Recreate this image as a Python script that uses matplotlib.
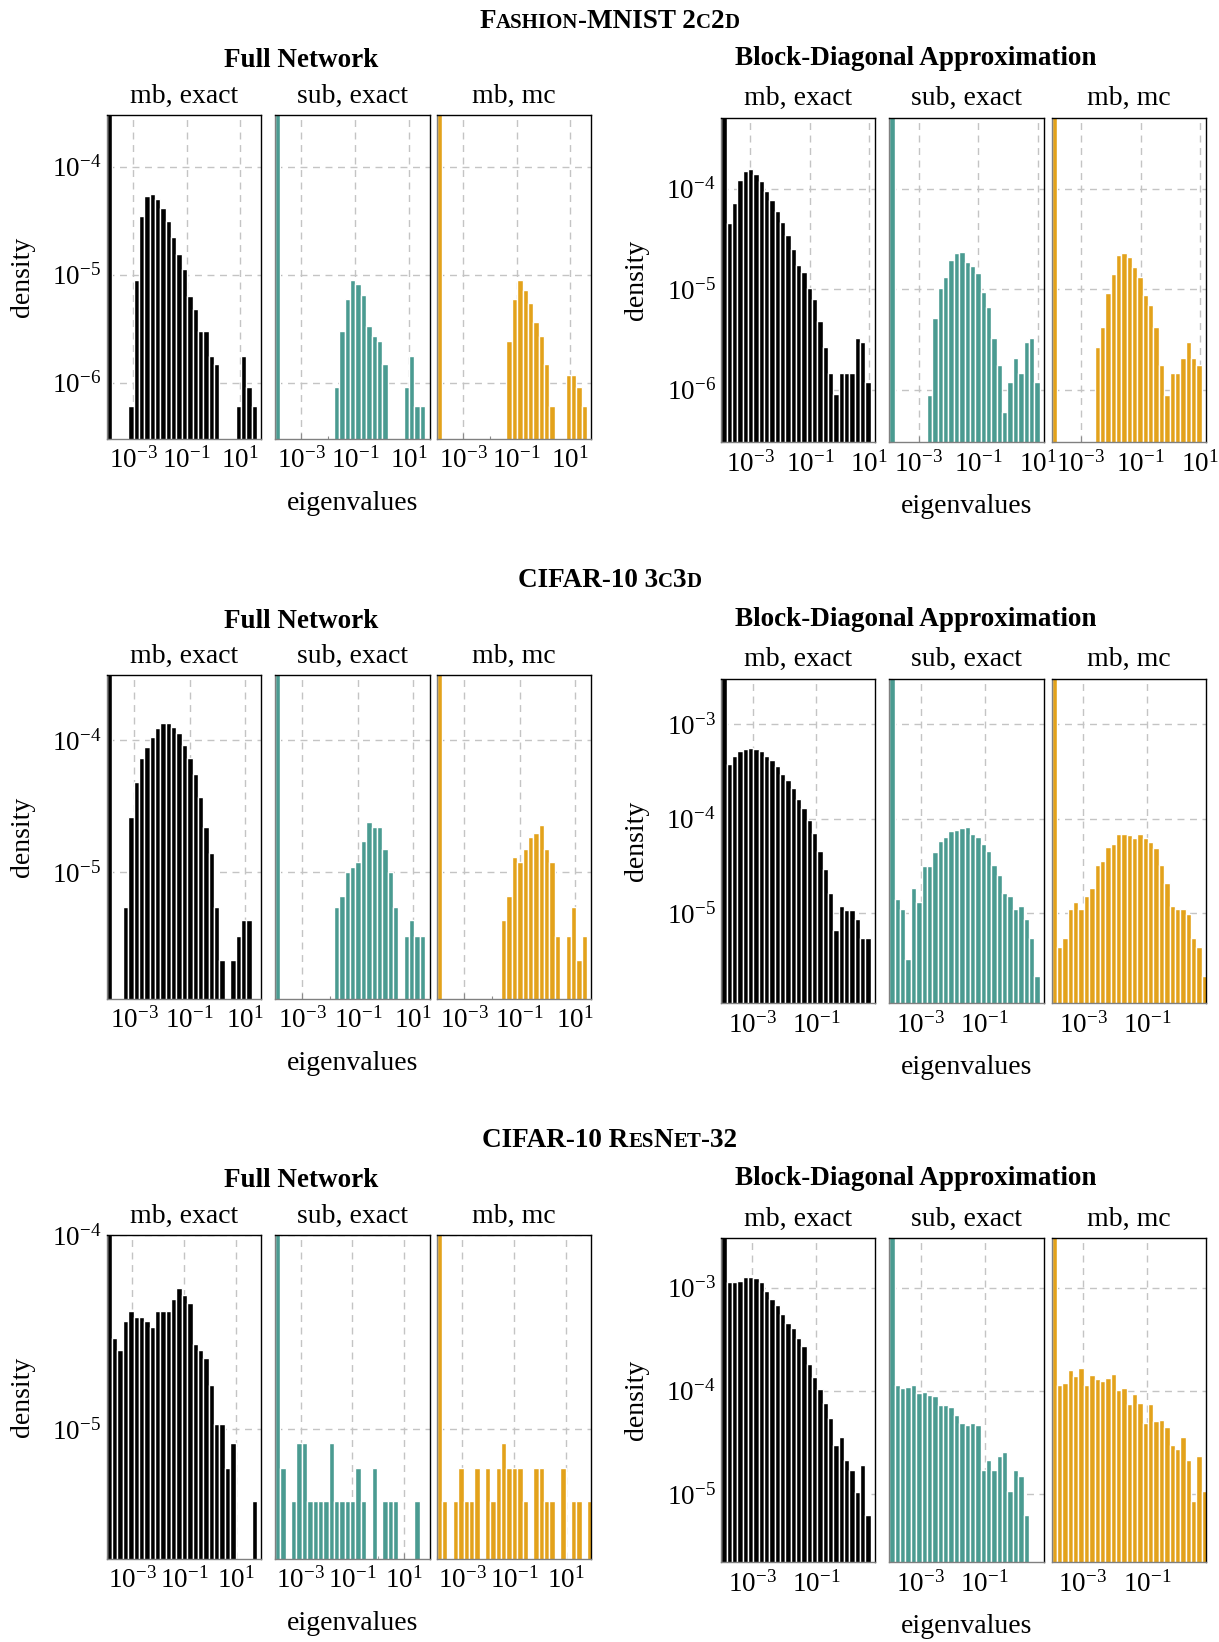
import numpy as np
import matplotlib
matplotlib.use("Agg")
import matplotlib.pyplot as plt
from matplotlib.ticker import FixedLocator, LogLocator, NullFormatter

plt.rcParams['font.family'] = ['Liberation Serif', 'DejaVu Serif']
plt.rcParams['mathtext.fontset'] = 'stix'

W, H = 1219, 1642
fig = plt.figure(figsize=(W / 100, H / 100), dpi=100)

COLORS = ['#000000', '#4A9B91', '#E3A21B']
PANEL_TITLES = ['mb, exact', 'sub, exact', 'mb, mc']
GROUP_TITLES = ['Full Network', 'Block-Diagonal Approximation']
XLABEL = 'eigenvalues'
YLABEL = 'density'

# ---- data: log10(density) per logarithmic bin (None = empty bin); bin 0 is off-scale ----
N = None
# Fashion-MNIST 2c2d, full network
FM_FULL_MB_EXACT = [-1.0, N, N, N, -6.22, -5.05, -4.46, -4.27, -4.25, -4.30, -4.38, -4.50, -4.65, -4.81,
                    -4.95, -5.20, -5.32, -5.52, -5.52, -5.75, -5.83, N, N, N, -6.22, -5.75, -6.04, -6.22]
FM_FULL_SUB_EXACT = [-1.0, N, N, N, N, N, N, N, N, N, N, -6.04, -5.52, -5.23, -5.05, -5.09, -5.19, -5.48,
                     -5.57, -5.62, -5.83, N, N, N, -6.04, -5.75, -6.22, -6.22]
FM_FULL_MB_MC = [-1.0, N, N, N, N, N, N, N, N, N, N, N, N, -5.62, -5.23, -5.05, -5.14, -5.26, -5.44,
                 -5.57, -5.83, -6.22, N, N, -5.93, -5.93, -6.04, -6.22]
# Fashion-MNIST 2c2d, block-diagonal
FM_BLOCK_MB_EXACT = [-1.0, -4.34, -4.14, -3.91, -3.82, -3.80, -3.85, -3.92, -4.02, -4.11, -4.22, -4.33,
                     -4.46, -4.60, -4.76, -4.83, -4.99, -5.10, -5.32, -5.57, -5.83, -6.04, -5.83, -5.83,
                     -5.83, -5.48, -5.52, -5.92]
FM_BLOCK_SUB_EXACT = [-1.0, N, N, N, N, N, N, -6.05, -5.29, -4.99, -4.88, -4.71, -4.64, -4.63, -4.73,
                      -4.77, -4.84, -5.03, -5.18, -5.48, -5.75, -6.22, -5.92, -5.68, -5.83, -5.52, -5.48,
                      -5.92]
FM_BLOCK_MB_MC = [-1.0, N, N, N, N, N, N, N, -5.57, -5.38, -5.04, -4.85, -4.66, -4.64, -4.68, -4.78,
                  -4.88, -5.06, -5.16, -5.38, -5.75, -6.05, -5.83, -5.83, -5.68, -5.52, -5.68, -5.75]
# CIFAR-10 3c3d, full network
C3_FULL_MB_EXACT = [-1.0, N, N, -5.26, -4.58, -4.32, -4.14, -4.05, -3.98, -3.91, -3.87, -3.87, -3.90,
                    -3.95, -4.04, -4.14, -4.26, -4.43, -4.66, -4.85, -5.26, -5.66, N, -5.66, -5.48,
                    -5.36, -5.36]
C3_FULL_SUB_EXACT = [-1.0, N, N, N, N, N, N, N, N, N, N, -5.26, -5.18, -5.00, -4.96, -4.92, -4.76, -4.62,
                     -4.66, -4.66, -4.82, -5.00, -5.26, N, -5.48, -5.36, -5.48, -5.48]
C3_FULL_MB_MC = [-1.0, N, N, N, N, N, N, N, N, N, N, N, -5.36, -5.18, -4.88, -4.92, -4.82, -4.73, -4.70,
                 -4.64, -4.82, -4.92, -5.48, N, -5.48, -5.26, -5.66, -5.48]
# CIFAR-10 3c3d, block-diagonal
C3_BLOCK_MB_EXACT = [-1.0, -3.42, -3.34, -3.29, -3.27, -3.25, -3.27, -3.29, -3.34, -3.38, -3.45, -3.53,
                     -3.59, -3.68, -3.79, -3.89, -4.01, -4.15, -4.34, -4.53, -4.79, -5.18, -4.92, -4.97,
                     -4.97, -5.06, -5.26, -5.26]
C3_BLOCK_SUB_EXACT = [-1.0, -4.85, -4.96, -5.48, -4.73, -4.88, -4.50, -4.50, -4.35, -4.24, -4.19, -4.13,
                      -4.12, -4.10, -4.09, -4.16, -4.19, -4.27, -4.34, -4.49, -4.60, -4.79, -4.82, -4.96,
                      -4.92, -5.06, -5.26, -5.66]
C3_BLOCK_MB_MC = [-1.0, -5.36, -5.26, -4.96, -4.88, -4.96, -4.82, -4.73, -4.49, -4.45, -4.30, -4.27,
                  -4.16, -4.16, -4.17, -4.20, -4.16, -4.21, -4.25, -4.31, -4.49, -4.68, -4.92, -4.96,
                  -4.96, -5.01, -5.26, -5.36, -5.66]
# CIFAR-10 ResNet-32, full network
RN_FULL_MB_EXACT = [-1.0, -4.53, -4.59, -4.44, -4.39, -4.42, -4.42, -4.44, -4.47, -4.39, -4.39, -4.39,
                    -4.33, -4.27, -4.31, -4.35, -4.56, -4.59, -4.63, -4.77, -4.97, -4.97, -5.20, -5.07,
                    N, N, N, -5.37]
RN_FULL_SUB_EXACT = [-1.0, -5.20, N, -5.37, -5.07, -5.07, -5.37, -5.37, -5.37, -5.37, -5.07, -5.37,
                     -5.37, -5.37, -5.37, -5.20, -5.37, N, -5.20, N, -5.37, -5.37, -5.37, N, N, N, -5.37]
RN_FULL_MB_MC = [-1.0, -5.37, N, -5.37, -5.20, -5.37, -5.37, -5.20, N, -5.20, -5.37, -5.20, -5.07,
                 -5.20, -5.20, -5.20, -5.37, N, -5.20, -5.20, -5.37, -5.37, N, -5.20, N, -5.37, -5.37,
                 N, -5.37]
# CIFAR-10 ResNet-32, block-diagonal
RN_BLOCK_MB_EXACT = [-1.0, -2.95, -2.95, -2.94, -2.90, -2.90, -2.91, -2.95, -3.03, -3.11, -3.17, -3.26,
                     -3.34, -3.39, -3.49, -3.57, -3.74, -3.87, -3.98, -4.12, -4.26, -4.53, -4.45, -4.67,
                     -4.77, -4.98, -4.72, -5.20]
RN_BLOCK_SUB_EXACT = [-1.0, -3.94, -3.97, -3.96, -3.94, -4.02, -4.01, -4.04, -4.05, -4.14, -4.14, -4.16,
                      -4.23, -4.31, -4.33, -4.31, -4.33, -4.77, -4.67, -4.77, -4.63, -4.59, -4.97, -4.77,
                      -4.83, -5.20]
RN_BLOCK_MB_MC = [-1.0, -3.94, -3.92, -3.80, -3.86, -3.78, -3.94, -3.85, -3.89, -3.91, -3.88, -3.84,
                  -3.99, -3.97, -4.13, -4.03, -4.12, -4.31, -4.13, -4.29, -4.28, -4.35, -4.53, -4.56,
                  -4.45, -4.67, -5.07, -4.63, -4.97]

# bin grids (log10 of first edge, bin width in decades) and axis ranges
SECTIONS = [
    [("F", 0), ("ASHION", 1), ("-MNIST 2", 0), ("C", 1), ("2", 0), ("D", 1)],
    [("CIFAR-10 3", 0), ("C", 1), ("3", 0), ("D", 1)],
    [("CIFAR-10 R", 0), ("ES", 1), ("N", 0), ("ET", 1), ("-32", 0)],
]
GROUP_DATA = [
    [(FM_FULL_MB_EXACT, FM_FULL_SUB_EXACT, FM_FULL_MB_MC), (-3.98, 0.200), (3e-7, 3e-4), [1e-3, 1e-1, 1e1]],
    [(FM_BLOCK_MB_EXACT, FM_BLOCK_SUB_EXACT, FM_BLOCK_MB_MC), (-3.977, 0.1795), (3e-7, 5.1e-4), [1e-3, 1e-1, 1e1]],
    [(C3_FULL_MB_EXACT, C3_FULL_SUB_EXACT, C3_FULL_MB_MC), (-3.99, 0.1935), (1.11e-6, 3.06e-4), [1e-3, 1e-1, 1e1]],
    [(C3_BLOCK_MB_EXACT, C3_BLOCK_SUB_EXACT, C3_BLOCK_MB_MC), (-3.99, 0.1685), (1.12e-6, 3e-3), [1e-3, 1e-1]],
    [(RN_FULL_MB_EXACT, RN_FULL_SUB_EXACT, RN_FULL_MB_MC), (-4.0, 0.2083), (2.15e-6, 1e-4), [1e-3, 1e-1, 1e1]],
    [(RN_BLOCK_MB_EXACT, RN_BLOCK_SUB_EXACT, RN_BLOCK_MB_MC), (-3.975, 0.1675), (2.18e-6, 3e-3), [1e-3, 1e-1]],
]
VISIBLE_BINS = 28.8

# ---- layout (pixels) ----
LEFT_X = [(106.7, 261.3), (275.0, 429.5), (436.7, 591.3)]
RIGHT_X = [(721.3, 875.0), (889.3, 1044.0), (1051.7, 1206.0)]
LEFT_ROWS = [(115.0, 439.0), (675.5, 999.0), (1235.3, 1559.0)]
RIGHT_ROWS = [(117.7, 442.3), (678.7, 1003.3), (1238.3, 1562.3)]
SECTION_Y = [19.0, 578.0, 1138.0]
FS = 20
FS_TICK = 19.5


def fx(x):
    return x / W


def fy(y):
    return 1 - y / H


def draw_group(gdata, xs, rows):
    panels, (lo, bw), ylim, xticks = gdata
    top, bottom = rows
    axes = []
    for j, (vals, color) in enumerate(zip(panels, COLORS)):
        x0, x1 = xs[j]
        ax = fig.add_axes([fx(x0), fy(bottom), (x1 - x0) / W, (bottom - top) / H])
        edges = 10 ** (lo + bw * np.arange(len(vals) + 1))
        lefts, widths, heights = [], [], []
        for i, v in enumerate(vals):
            if v is None:
                continue
            lefts.append(edges[i])
            widths.append(edges[i + 1] - edges[i])
            heights.append(10 ** v)
        ax.bar(lefts, heights, width=widths, bottom=1e-12, align='edge', color=color,
               edgecolor='white', linewidth=1.0)
        ax.set_xscale('log')
        ax.set_yscale('log')
        ax.set_xlim(10 ** lo, 10 ** (lo + VISIBLE_BINS * bw))
        ax.set_ylim(*ylim)
        ax.xaxis.set_major_locator(FixedLocator(xticks))
        ax.xaxis.set_minor_locator(LogLocator(base=10, subs=(1.0,), numticks=30))
        ax.xaxis.set_minor_formatter(NullFormatter())
        ax.yaxis.set_major_locator(LogLocator(base=10, numticks=30))
        ax.yaxis.set_minor_locator(LogLocator(base=10, subs=np.arange(2, 10), numticks=30))
        ax.yaxis.set_minor_formatter(NullFormatter())
        ax.set_axisbelow(True)
        ax.grid(True, which='major', color='#c4c4c4', linestyle=(0, (5, 4)), linewidth=1.0)
        ax.tick_params(which='both', direction='in', color='0.55', width=0.8, labelsize=FS_TICK)
        ax.tick_params(which='major', length=4, pad=6)
        ax.tick_params(which='minor', length=2)
        ax.tick_params(axis='y', which='major', pad=4)
        if j > 0:
            ax.tick_params(labelleft=False)
        for s in ('top', 'right'):
            ax.spines[s].set_color('black')
            ax.spines[s].set_linewidth(1.0)
        for s in ('left', 'bottom'):
            ax.spines[s].set_color('0.5')
            ax.spines[s].set_linewidth(1.0)
        axes.append(ax)
        fig.text(fx((x0 + x1) / 2), fy(top - 19), PANEL_TITLES[j], fontsize=FS, ha='center', va='center')
    return axes


def smallcaps(pieces, xc, yc, big=19.5, small=15.0):
    renderer = fig.canvas.get_renderer()
    ts = []
    for s, sm in pieces:
        ts.append(fig.text(0, 0, s, fontsize=small if sm else big, fontweight='bold',
                           ha='left', va='baseline'))
    widths = [t.get_window_extent(renderer).width for t in ts]
    x = xc - sum(widths) / 2
    for t, wd in zip(ts, widths):
        t.set_position((fx(x), fy(yc + 9)))
        x += wd


for r in range(3):
    lrow, rrow = LEFT_ROWS[r], RIGHT_ROWS[r]
    draw_group(GROUP_DATA[2 * r], LEFT_X, lrow)
    draw_group(GROUP_DATA[2 * r + 1], RIGHT_X, rrow)
    smallcaps(SECTIONS[r], 609.5, SECTION_Y[r])
    fig.text(fx(301.6), fy(lrow[0] - 54.5), GROUP_TITLES[0], fontsize=19.5, fontweight='bold',
             ha='center', va='center')
    fig.text(fx(916.0), fy(rrow[0] - 59.5), GROUP_TITLES[1], fontsize=19.5, fontweight='bold',
             ha='center', va='center')
    fig.text(fx((LEFT_X[1][0] + LEFT_X[1][1]) / 2), fy(lrow[1] + 64), XLABEL, fontsize=FS,
             ha='center', va='center')
    fig.text(fx((RIGHT_X[1][0] + RIGHT_X[1][1]) / 2), fy(rrow[1] + 64), XLABEL, fontsize=FS,
             ha='center', va='center')
    fig.text(fx(23), fy((lrow[0] + lrow[1]) / 2), YLABEL, fontsize=FS, rotation=90,
             ha='center', va='center')
    fig.text(fx(637), fy((rrow[0] + rrow[1]) / 2), YLABEL, fontsize=FS, rotation=90,
             ha='center', va='center')

fig.savefig('out.png', dpi=100, facecolor='white')
